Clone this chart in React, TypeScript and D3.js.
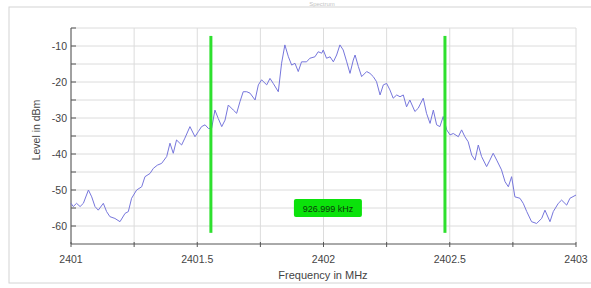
import React from "react";
import * as d3 from "d3";

// spectrum trace
const FREQ_MHZ = [
  2401.0, 2401.009, 2401.022, 2401.036, 2401.049, 2401.069, 2401.082, 2401.095, 2401.108, 2401.128,
  2401.141, 2401.154, 2401.174, 2401.194, 2401.214, 2401.227, 2401.24, 2401.26, 2401.28, 2401.293,
  2401.313, 2401.326, 2401.342, 2401.359, 2401.379, 2401.392, 2401.405, 2401.418, 2401.438, 2401.451,
  2401.471, 2401.491, 2401.504, 2401.517, 2401.531, 2401.544, 2401.557, 2401.57, 2401.583, 2401.597,
  2401.61, 2401.623, 2401.643, 2401.656, 2401.669, 2401.682, 2401.696, 2401.709, 2401.729, 2401.742,
  2401.755, 2401.775, 2401.788, 2401.801, 2401.821, 2401.834, 2401.847, 2401.861, 2401.874, 2401.887,
  2401.9, 2401.913, 2401.933, 2401.946, 2401.966, 2401.979, 2401.993, 2401.999, 2402.012, 2402.026,
  2402.039, 2402.052, 2402.065, 2402.078, 2402.092, 2402.105, 2402.118, 2402.125, 2402.138, 2402.151,
  2402.171, 2402.184, 2402.197, 2402.21, 2402.224, 2402.237, 2402.25, 2402.263, 2402.276, 2402.29,
  2402.303, 2402.316, 2402.329, 2402.342, 2402.362, 2402.375, 2402.395, 2402.408, 2402.422, 2402.435,
  2402.448, 2402.461, 2402.474, 2402.488, 2402.501, 2402.514, 2402.534, 2402.547, 2402.56, 2402.573,
  2402.587, 2402.6, 2402.613, 2402.626, 2402.646, 2402.659, 2402.672, 2402.686, 2402.705, 2402.719,
  2402.732, 2402.745, 2402.758, 2402.778, 2402.791, 2402.805, 2402.824, 2402.844, 2402.864, 2402.877,
  2402.897, 2402.91, 2402.93, 2402.943, 2402.963, 2402.976, 2403.0,
];

const LEVEL_DBM = [
  -53.7, -54.6, -53.7, -54.6, -53.7, -50.0, -51.9, -54.6, -55.6, -53.7,
  -56.0, -57.4, -57.9, -58.8, -56.5, -56.0, -52.3, -50.0, -49.1, -46.3,
  -45.4, -44.0, -43.1, -42.6, -40.7, -37.0, -39.8, -36.1, -37.5, -35.6,
  -32.4, -35.2, -33.8, -32.4, -31.9, -32.9, -32.9, -27.8, -30.1, -32.4,
  -30.6, -26.4, -27.8, -28.7, -25.5, -22.7, -22.7, -23.1, -25.0, -20.8,
  -19.4, -20.8, -19.0, -20.4, -22.7, -14.8, -9.7, -13.0, -15.3, -14.8,
  -17.1, -14.4, -14.4, -13.4, -13.0, -11.6, -12.0, -11.1, -13.4, -13.0,
  -14.4, -12.5, -9.7, -11.1, -14.4, -17.6, -13.9, -12.5, -15.7, -18.5,
  -17.1, -17.6, -18.5, -19.9, -23.6, -20.8, -20.4, -22.2, -24.5, -23.6,
  -24.1, -23.6, -26.9, -25.0, -28.2, -27.3, -24.5, -28.7, -31.5, -27.8,
  -31.9, -32.4, -29.6, -33.3, -34.7, -34.3, -35.2, -33.3, -35.2, -36.6,
  -40.3, -41.7, -37.5, -40.7, -43.5, -41.7, -39.8, -41.7, -44.4, -47.7,
  -49.1, -46.3, -51.9, -52.3, -53.7, -56.0, -58.8, -59.3, -57.9, -55.6,
  -58.8, -56.0, -53.7, -52.8, -54.2, -52.3, -51.4,
];

// marker lines and their distance label
const MARKERS_MHZ = [2401.554, 2402.481];
const MARKER_LABEL = "926.999 kHz";
const MARKER_LABEL_DBM = -55;

const X_DOMAIN = [2401, 2403];
const Y_DOMAIN = [-65, -5];
const X_GRID = [2401, 2401.25, 2401.5, 2401.75, 2402, 2402.25, 2402.5, 2402.75, 2403];
const X_LABELS = [2401, 2401.5, 2402, 2402.5, 2403];
const Y_GRID = [-60, -55, -50, -45, -40, -35, -30, -25, -20, -15, -10, -5];
const Y_LABELS = [-60, -50, -40, -30, -20, -10];

const W = 591;
const H = 288;
const FONT = "'Liberation Sans', Arial, sans-serif";

export default function App() {
  const x = d3.scaleLinear().domain(X_DOMAIN).range([71, 576]);
  const y = d3.scaleLinear().domain(Y_DOMAIN).range([244, 28]);

  const line = d3
    .line<number>()
    .x((_, i) => x(FREQ_MHZ[i]))
    .y((d) => y(d));

  const labelX = x((MARKERS_MHZ[0] + MARKERS_MHZ[1]) / 2);
  const labelY = y(MARKER_LABEL_DBM);

  return (
    <svg
      width={W}
      height={H}
      style={{ position: "absolute", left: 0, top: 0, background: "#fff" }}
      fontFamily={FONT}
    >
      {/* outer frame + faint title above it */}
      <text x={322} y={5.5} textAnchor="middle" fontSize={6} fill="#c4c4c4">
        Spectrum
      </text>
      <rect x={9} y={7} width={600} height={276} fill="#fff" stroke="#d4d4d4" />

      {/* grid */}
      {X_GRID.map((v) => (
        <line key={"gx" + v} x1={x(v)} x2={x(v)} y1={y(Y_DOMAIN[1])} y2={y(Y_DOMAIN[0])} stroke="#dcdcdc" />
      ))}
      {Y_GRID.map((v) => (
        <line key={"gy" + v} x1={x(X_DOMAIN[0])} x2={x(X_DOMAIN[1])} y1={y(v)} y2={y(v)} stroke="#dcdcdc" />
      ))}

      {/* axes */}
      <line x1={x(X_DOMAIN[0])} x2={x(X_DOMAIN[0])} y1={y(Y_DOMAIN[1])} y2={y(Y_DOMAIN[0])} stroke="#555" />
      <line x1={x(X_DOMAIN[0])} x2={x(X_DOMAIN[1])} y1={y(Y_DOMAIN[0])} y2={y(Y_DOMAIN[0])} stroke="#555" />
      {Y_GRID.filter((v) => v > Y_DOMAIN[0]).map((v) => (
        <line key={"ty" + v} x1={x(X_DOMAIN[0])} x2={x(X_DOMAIN[0]) + 5} y1={y(v)} y2={y(v)} stroke="#555" />
      ))}
      {X_GRID.map((v) => (
        <line key={"tx" + v} x1={x(v)} x2={x(v)} y1={y(Y_DOMAIN[0]) - 2} y2={y(Y_DOMAIN[0]) + 3} stroke="#555" />
      ))}
      {Y_LABELS.map((v) => (
        <text key={"ly" + v} x={x(X_DOMAIN[0]) - 4} y={y(v) + 4} textAnchor="end" fontSize={10.5} fill="#444">
          {v}
        </text>
      ))}
      {X_LABELS.map((v) => (
        <text key={"lx" + v} x={x(v)} y={263} textAnchor="middle" fontSize={10.5} fill="#444">
          {v}
        </text>
      ))}
      <text x={323} y={279} textAnchor="middle" fontSize={11} fill="#444">
        Frequency in MHz
      </text>
      <text transform="translate(40,130) rotate(-90)" textAnchor="middle" fontSize={10.5} fill="#444">
        Level in dBm
      </text>

      {/* trace */}
      <path d={line(LEVEL_DBM) ?? ""} fill="none" stroke="#7676dc" strokeWidth={1} strokeLinejoin="round" />

      {/* markers */}
      {MARKERS_MHZ.map((m) => (
        <line key={"m" + m} x1={x(m)} x2={x(m)} y1={y(-7.2)} y2={y(-61.9)} stroke="#2ee02e" strokeWidth={3} />
      ))}
      <rect x={labelX - 34} y={labelY - 9} width={68} height={18} rx={2} fill="#0be20b" />
      <text x={labelX} y={labelY + 3.5} textAnchor="middle" fontSize={9} fill="#0a3a0a">
        {MARKER_LABEL}
      </text>
    </svg>
  );
}
